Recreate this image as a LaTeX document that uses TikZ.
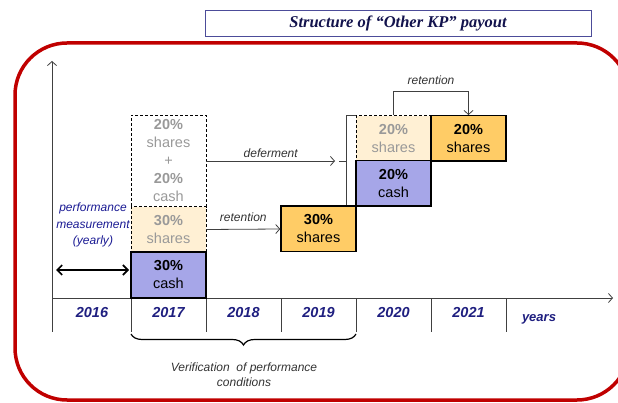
\documentclass[tikz,border=0pt]{standalone}
\usepackage{fontspec}
\setmainfont{Liberation Sans}
\newfontfamily\titrefont{Liberation Serif}
\usetikzlibrary{arrows.meta,decorations.pathreplacing}

\definecolor{lavande}{HTML}{A6A6E8}
\definecolor{abricot}{HTML}{FFCC66}
\definecolor{creme}{HTML}{FFF0D4}
\definecolor{marine}{HTML}{1F1F80}
\definecolor{rougecadre}{HTML}{C00000}
\definecolor{grisclair}{HTML}{999999}
\definecolor{gristrait}{HTML}{404040}

\begin{document}
\begin{tikzpicture}[x=1pt, y=-1pt]
			\tikzset{boite/.style={rectangle, draw=black, line width=1.5pt, minimum width=75pt, minimum height=45.5pt, inner sep=0pt, align=center, font=\fontsize{14.5}{18}\selectfont},
				boiteclaire/.style={boite, line width=0.7pt, dash pattern=on 3pt off 2pt, text=grisclair},
				fleche/.style={->, >={Straight Barb[length=4pt,width=9pt]}, draw=gristrait, line width=0.8pt},
				annee/.style={font=\fontsize{14.5}{17}\selectfont\bfseries\itshape, text=marine},
				etiquette/.style={font=\fontsize{12}{15}\selectfont\itshape, text=black!80}};

			\useasboundingbox (0,0) rectangle (618,403);
			\clip (0,0) rectangle (618,403);

			% cadre et titre
			\draw[rougecadre, line width=3.5pt, rounded corners=52pt] (15,43) rectangle (629,400);
			\node[draw=marine!80, line width=0.8pt, minimum width=386pt, minimum height=26pt, text=marine!60!black,
				font=\titrefont\fontsize{16.5}{18}\selectfont\bfseries\itshape] (titre) at (398,23) {Structure of “Other KP” payout};

			% axes
			\coordinate (origine) at (  52, 298);
			\coordinate (yhaut)   at (  52,  61);
			\coordinate (xfin)    at ( 613, 298);
			\draw[fleche] (origine) -- (yhaut);
			\draw[fleche] (origine) -- (xfin);
			\foreach \x in {52,131,206,281,356,431,506}
				\draw[gristrait, line width=0.8pt] (\x,298) -- (\x,332);

			\node[annee] (a2016) at (  92, 313) {2016};
			\node[annee] (a2017) at (168.5, 313) {2017};
			\node[annee] (a2018) at (243.5, 313) {2018};
			\node[annee] (a2019) at (318.5, 313) {2019};
			\node[annee] (a2020) at (393.5, 313) {2020};
			\node[annee] (a2021) at (468.5, 313) {2021};
			\node[annee, font=\fontsize{13}{15}\selectfont\bfseries\itshape] (ans) at (539, 319) {years};

			% boites
			\node[boiteclaire, minimum height=92pt] (d17) at (168.5, 161) {\textbf{20\%}\\shares\\+\\\textbf{20\%}\\cash};
			\node[boiteclaire, fill=creme] (s17) at (168.5, 229.5) {\textbf{30\%}\\shares};
			\node[boiteclaire, fill=creme] (s20) at (393.5, 138.5) {\textbf{20\%}\\shares};
			\node[boite, fill=lavande] (c17) at (168.5, 275) {\textbf{30\%}\\cash};
			\node[boite, fill=abricot] (s19) at (318.5, 229) {\textbf{30\%}\\shares};
			\node[boite, fill=lavande] (c20) at (393.5, 183.5) {\textbf{20\%}\\cash};
			\node[boite, fill=abricot] (s21) at (468.5, 138.5) {\textbf{20\%}\\shares};

			% fleches
			\draw[fleche] (s17.east) to node[above=4pt, etiquette] {retention} (s19.west);

			\coordinate (report)  at ( 335, 161);
			\coordinate (crochet) at ( 346, 161);
			\draw[fleche] (d17.east) to node[above, etiquette] {deferment} (report);
			\draw[gristrait, line width=0.8pt] (339,161) -- (crochet);
			\draw[gristrait, line width=0.8pt] (crochet |- s19.north) -- (crochet |- s20.north) -- (s20.north west);

			\draw[fleche] (s20.north) -- ++(0,-24) -| node[pos=0.25, above=3pt, etiquette] {retention} (s21.north);

			% periode de mesure
			\coordinate (mesureg) at (  56, 270);
			\coordinate (mesured) at ( 129, 270);
			\draw[<->, >={Straight Barb[length=5pt,width=10pt]}, line width=1.6pt] (mesureg) -- (mesured);
			\node[align=center, font=\fontsize{12}{16.5}\selectfont\itshape, text=marine!85!blue] (mesure) at (93, 225) {performance\\measurement\\(yearly)};

			% verification
			\draw[line width=1.2pt, decorate, decoration={brace, mirror, amplitude=11pt}] (131,334) -- (356,334);
			\node[etiquette, align=center] (verif) at (244, 374.5) {Verification\ \ of performance\\conditions};

		\end{tikzpicture}
\end{document}
